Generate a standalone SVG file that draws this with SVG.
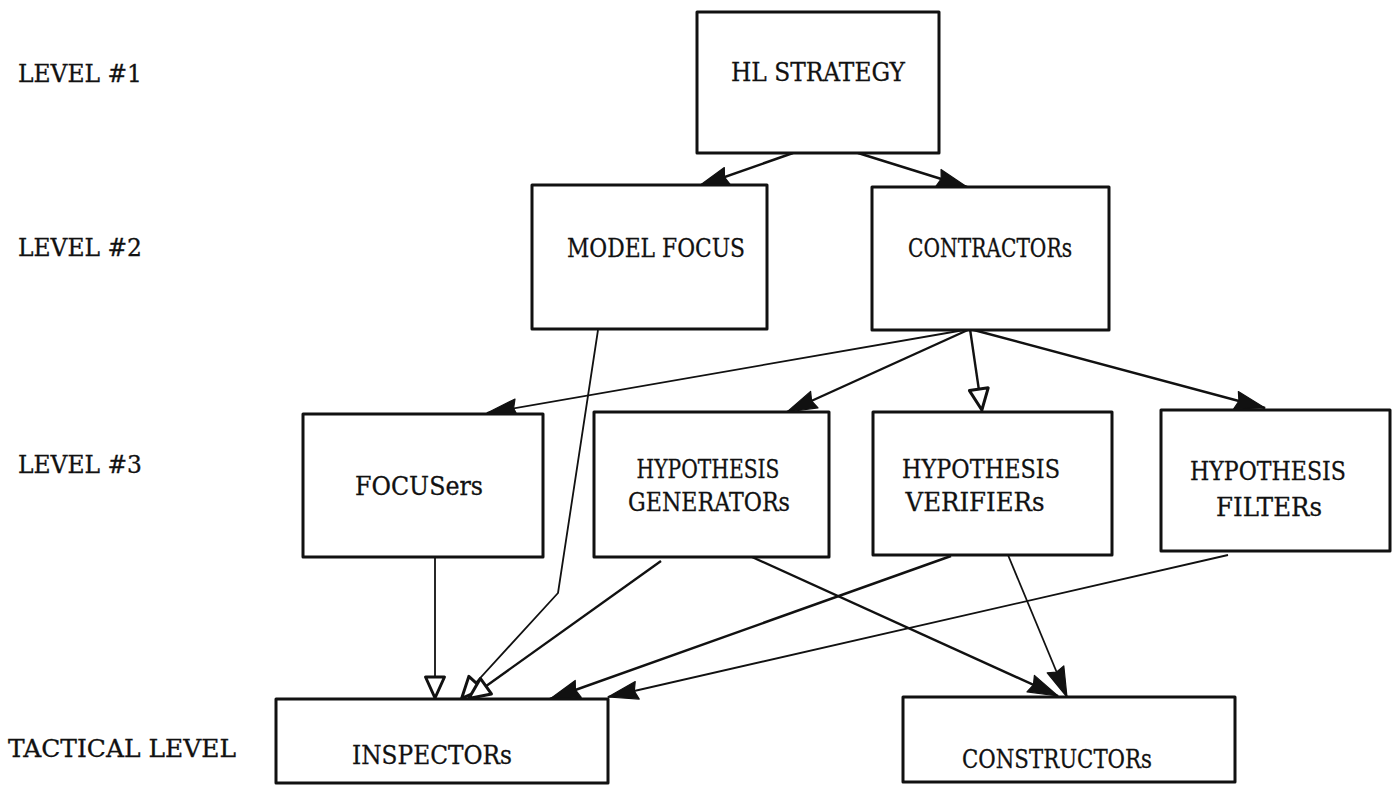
<svg xmlns="http://www.w3.org/2000/svg" width="1392" height="785" viewBox="0 0 1392 785">
  <style>
    .box { fill: #ffffff; stroke: #111111; stroke-width: 3; stroke-linejoin: round; }
    .lbl { font-family: "DejaVu Serif", "Liberation Serif", serif; font-size: 26px; fill: #111111; stroke: #111111; stroke-width: 0.3; }
    .lvl { font-family: "DejaVu Serif", "Liberation Serif", serif; font-size: 24px; fill: #111111; stroke: #111111; stroke-width: 0.3; }
    .edge { fill: none; stroke: #111111; stroke-width: 2.4; stroke-linejoin: round; }
    .thin { stroke-width: 1.8; }
  </style>
  <defs>
    <marker id="solid" markerUnits="userSpaceOnUse" markerWidth="40" markerHeight="28" viewBox="-36 -14 40 28" refX="0" refY="0" orient="auto">
      <path d="M0,0 L-30,-9 L-27,0 L-30,9 Z" fill="#111111" stroke="#111111" stroke-width="1.2" stroke-linejoin="round"/>
    </marker>
    <marker id="hollow" markerUnits="userSpaceOnUse" markerWidth="40" markerHeight="30" viewBox="-36 -15 40 30" refX="0" refY="0" orient="auto">
      <path d="M-1,0 L-22,-9.5 L-22,9.5 Z" fill="#ffffff" stroke="#111111" stroke-width="3" stroke-linejoin="round"/>
    </marker>
  </defs>

  <rect width="1392" height="785" fill="#ffffff"/>

  <!-- level captions -->
  <g id="levels">
    <text class="lvl" x="18" y="82" textLength="124" lengthAdjust="spacingAndGlyphs">LEVEL  #1</text>
    <text class="lvl" x="18" y="256" textLength="124" lengthAdjust="spacingAndGlyphs">LEVEL  #2</text>
    <text class="lvl" x="18" y="473" textLength="124" lengthAdjust="spacingAndGlyphs">LEVEL  #3</text>
    <text class="lvl" x="8" y="757" textLength="228" lengthAdjust="spacingAndGlyphs">TACTICAL LEVEL</text>
  </g>

  <!-- connectors -->
  <g id="connectors">
    <line class="edge" x1="793" y1="153" x2="699" y2="186" marker-end="url(#solid)"/>
    <line class="edge" x1="858" y1="153" x2="967" y2="187" marker-end="url(#solid)"/>
    <polyline class="edge thin" points="598,330 558,593 461,699" marker-end="url(#hollow)"/>
    <line class="edge thin" x1="970" y1="329" x2="487" y2="413" marker-end="url(#solid)"/>
    <line class="edge" x1="970" y1="329" x2="787" y2="412" marker-end="url(#solid)"/>
    <line class="edge" x1="970" y1="329" x2="982" y2="411" marker-end="url(#hollow)"/>
    <line class="edge" x1="970" y1="329" x2="1265" y2="408" marker-end="url(#solid)"/>
    <line class="edge thin" x1="435" y1="557" x2="435" y2="699" marker-end="url(#hollow)"/>
    <line class="edge" x1="661" y1="561" x2="468" y2="699" marker-end="url(#hollow)"/>
    <line class="edge" x1="752" y1="557" x2="1058" y2="696" marker-end="url(#solid)"/>
    <line class="edge" x1="951" y1="556" x2="550" y2="699" marker-end="url(#solid)"/>
    <line class="edge thin" x1="1008" y1="555" x2="1067" y2="697" marker-end="url(#solid)"/>
    <line class="edge thin" x1="1228" y1="555" x2="608" y2="697" marker-end="url(#solid)"/>
  </g>

  <!-- level 1 -->
  <g id="hl-strategy">
    <rect class="box" x="697" y="12" width="242" height="141"/>
    <text class="lbl" x="818" y="81" text-anchor="middle" textLength="174" lengthAdjust="spacingAndGlyphs">HL  STRATEGY</text>
  </g>

  <!-- level 2 -->
  <g id="model-focus">
    <rect class="box" x="532" y="185" width="235" height="144"/>
    <text class="lbl" x="656" y="257" text-anchor="middle" textLength="178" lengthAdjust="spacingAndGlyphs">MODEL  FOCUS</text>
  </g>
  <g id="contractors">
    <rect class="box" x="872" y="187" width="237" height="143"/>
    <text class="lbl" x="990" y="257" text-anchor="middle" textLength="164" lengthAdjust="spacingAndGlyphs">CONTRACTORs</text>
  </g>

  <!-- level 3 -->
  <g id="focusers">
    <rect class="box" x="303" y="414" width="240" height="143"/>
    <text class="lbl" x="419" y="495" text-anchor="middle" textLength="128" lengthAdjust="spacingAndGlyphs">FOCUSers</text>
  </g>
  <g id="hypothesis-generators">
    <rect class="box" x="594" y="412" width="235" height="145"/>
    <text class="lbl" x="708" y="478" text-anchor="middle" textLength="143" lengthAdjust="spacingAndGlyphs">HYPOTHESIS</text>
    <text class="lbl" x="709" y="511" text-anchor="middle" textLength="162" lengthAdjust="spacingAndGlyphs">GENERATORs</text>
  </g>
  <g id="hypothesis-verifiers">
    <rect class="box" x="873" y="412" width="239" height="143"/>
    <text class="lbl" x="981" y="478" text-anchor="middle" textLength="158" lengthAdjust="spacingAndGlyphs">HYPOTHESIS</text>
    <text class="lbl" x="975" y="511" text-anchor="middle" textLength="139" lengthAdjust="spacingAndGlyphs">VERIFIERs</text>
  </g>
  <g id="hypothesis-filters">
    <rect class="box" x="1161" y="410" width="229" height="141"/>
    <text class="lbl" x="1268" y="480" text-anchor="middle" textLength="156" lengthAdjust="spacingAndGlyphs">HYPOTHESIS</text>
    <text class="lbl" x="1269" y="516" text-anchor="middle" textLength="106" lengthAdjust="spacingAndGlyphs">FILTERs</text>
  </g>

  <!-- tactical level -->
  <g id="inspectors">
    <rect class="box" x="276" y="699" width="332" height="84"/>
    <text class="lbl" x="432" y="764" text-anchor="middle" textLength="160" lengthAdjust="spacingAndGlyphs">INSPECTORs</text>
  </g>
  <g id="constructors">
    <rect class="box" x="903" y="697" width="332" height="85"/>
    <text class="lbl" x="1057" y="768" text-anchor="middle" textLength="190" lengthAdjust="spacingAndGlyphs">CONSTRUCTORs</text>
  </g>
</svg>
